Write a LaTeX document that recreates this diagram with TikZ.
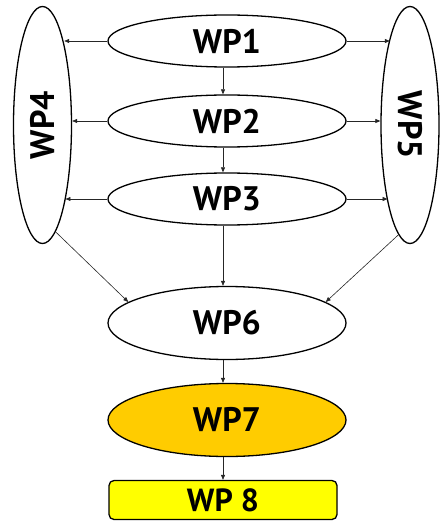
\documentclass[tikz,border=0pt]{standalone}
\usepackage{fontspec}
\setmainfont{PT Sans}
\usetikzlibrary{shapes.geometric,arrows.meta}
\definecolor{wporange}{HTML}{FFCC00}
\definecolor{wpyellow}{HTML}{FFFF00}
\tikzset{
  wpell/.style={ellipse,draw=black,line width=1.3pt,fill=white,inner sep=0pt,
    font=\fontsize{34}{34}\selectfont\bfseries},
  wide/.style={wpell,minimum width=238pt,minimum height=52pt},
  big/.style={wpell,minimum width=238pt,minimum height=73pt},
  tall/.style={wpell,minimum width=58pt,minimum height=237pt},
  conn/.style={line width=0.6pt,draw=black!85,-{Triangle[length=5pt,width=4pt]}},
}
\begin{document}
\begin{tikzpicture}[x=1pt,y=-1pt]
\useasboundingbox (0,0) rectangle (439,521);
\node[wide] (wp1) at (227,41) {WP1};
\node[wide] (wp2) at (227,121) {WP2};
\node[wide] (wp3) at (227,199) {WP3};
\node[tall] (wp4) at (42.5,125) {\rotatebox{90}{WP4}};
\node[tall] (wp5) at (410,125) {\rotatebox{-90}{WP5}};
\node[big] (wp6) at (227,323) {WP6};
\node[big,fill=wporange] (wp7) at (227,420) {WP7};
\node[draw=black,line width=1.3pt,fill=wpyellow,rounded corners=5pt,
  minimum width=228pt,minimum height=39pt,inner sep=0pt,
  font=\fontsize{32}{32}\selectfont\bfseries] (wp8) at (223,500) {WP 8};
% horizontal arrows
\draw[conn] (wp1.west) -- (wp1.west -| wp4.75.7);
\draw[conn] (wp2.west) -- (wp2.west -| wp4.east);
\draw[conn] (wp3.west) -- (wp3.west -| wp4.-73.1);
\draw[conn] (wp1.east) -- (wp1.east -| wp5.103.5);
\draw[conn] (wp2.east) -- (wp2.east -| wp5.west);
\draw[conn] (wp3.east) -- (wp3.east -| wp5.-106.1);
% vertical arrows
\draw[conn] ([xshift=-4pt]wp1.south) -- ([xshift=-4pt]wp2.north);
\draw[conn] ([xshift=-4pt]wp2.south) -- ([xshift=-4pt]wp3.north);
\draw[conn] ([xshift=-4pt]wp3.south) -- ([xshift=-4pt]wp6.north);
\draw[conn] ([xshift=-4pt]wp6.south) -- ([xshift=-4pt]wp7.north);
\draw[conn] ([xshift=-4pt]wp7.south) -- (wp8.north);
% diagonals
\draw[conn] (wp4.-83) -- (wp6.168);
\draw[conn] (wp5.-96) -- (wp6.12);
\end{tikzpicture}
\end{document}
